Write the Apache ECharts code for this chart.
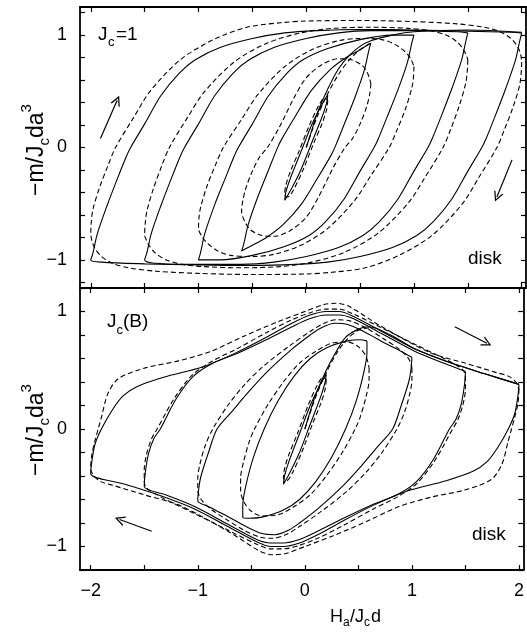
<!DOCTYPE html>
<html>
<head>
<meta charset="utf-8">
<script src="https://cdn.jsdelivr.net/npm/echarts@6/dist/echarts.min.js"></script>
<style>
  html, body { margin: 0; padding: 0; background: #fff; }
  #chart { width: 527px; height: 635px; }
</style>
</head>
<body>
<div id="chart"></div>
<script>
// Axis ticks and labels
const hTickValues = [-2, -1.5, -1, -0.5, 0, 0.5, 1, 1.5, 2];
const hLabelValues = [-2, -1, 0, 1, 2];
const mTickValues = [-1.2, -1, -0.8, -0.6, -0.4, -0.2, 0, 0.2, 0.4, 0.6, 0.8, 1, 1.2];
const mLabelValues = [-1, 0, 1];

// ---- Upper panel, Jc = 1 : loops [Ha/Jcd, -m/Jcda^3], down branch then up branch ----
const topSolidVirgin = [[0,0],[0.05,0.15],[0.1,0.3],[0.2,0.52],[0.3,0.7],[0.4,0.82],[0.5,0.9],[0.6,0.95],[0.8,1.0],[1.0,1.03],[1.5,1.045],[2.0,1.025]];
const topSolid20 = [[2.0,1.02],[1.98,0.94],[1.94,0.77],[1.85,0.52],[1.75,0.27],[1.67,0.08],[1.63,0],[1.5,-0.21],[1.35,-0.46],[1.18,-0.66],[1.03,-0.78],[0.8,-0.89],[0.5,-0.97],[0.2,-1.02],[-0.1,-1.04],[-0.5,-1.05],[-1.0,-1.045],[-1.5,-1.035],[-1.9,-1.02],[-2.0,-1.0],
  [-1.98,-0.94],[-1.94,-0.77],[-1.85,-0.52],[-1.75,-0.27],[-1.67,-0.08],[-1.63,0],[-1.5,0.21],[-1.35,0.46],[-1.18,0.66],[-1.03,0.78],[-0.8,0.89],[-0.5,0.97],[-0.2,1.02],[0.1,1.04],[0.5,1.05],[1.0,1.045],[1.5,1.035],[1.9,1.025],[2.0,1.02]];
const topSolid15 = [[1.5,1.02],[1.48,0.94],[1.44,0.77],[1.35,0.52],[1.25,0.27],[1.17,0.08],[1.13,0],[1.0,-0.21],[0.85,-0.46],[0.68,-0.66],[0.53,-0.78],[0.3,-0.89],[0.0,-0.97],[-0.3,-1.02],[-0.6,-1.04],[-1.0,-1.04],[-1.4,-1.03],[-1.5,-1.0],
  [-1.48,-0.94],[-1.44,-0.77],[-1.35,-0.52],[-1.25,-0.27],[-1.17,-0.08],[-1.13,0],[-1.0,0.21],[-0.85,0.46],[-0.68,0.66],[-0.53,0.78],[-0.3,0.89],[0.0,0.97],[0.3,1.02],[0.6,1.04],[1.0,1.04],[1.4,1.03],[1.5,1.02]];
const topSolid10 = [[1.0,1.0],[0.98,0.93],[0.94,0.76],[0.85,0.51],[0.75,0.27],[0.67,0.08],[0.63,0],[0.5,-0.21],[0.35,-0.46],[0.18,-0.66],[0.03,-0.78],[-0.2,-0.88],[-0.5,-0.96],[-0.8,-1.0],[-1.0,-1.0],
  [-0.98,-0.93],[-0.94,-0.76],[-0.85,-0.51],[-0.75,-0.27],[-0.67,-0.08],[-0.63,0],[-0.5,0.21],[-0.35,0.46],[-0.18,0.66],[-0.03,0.78],[0.2,0.88],[0.5,0.96],[0.8,1.0],[1.0,1.0]];
const topSolid06 = [[0.6,0.93],[0.58,0.86],[0.54,0.69],[0.45,0.44],[0.35,0.2],[0.27,0.01],[0.23,-0.07],[0.1,-0.28],[-0.05,-0.51],[-0.22,-0.69],[-0.37,-0.8],[-0.5,-0.87],[-0.6,-0.92],
  [-0.58,-0.86],[-0.54,-0.69],[-0.45,-0.44],[-0.35,-0.2],[-0.27,-0.01],[-0.23,0.07],[-0.1,0.28],[0.05,0.51],[0.22,0.69],[0.37,0.8],[0.5,0.87],[0.6,0.93]];
const topSolid02 = [[0.2,0.47],[0.19,0.4],[0.15,0.28],[0.05,0.04],[-0.05,-0.2],[-0.15,-0.39],[-0.2,-0.47],
  [-0.19,-0.4],[-0.15,-0.28],[-0.05,-0.04],[0.05,0.2],[0.15,0.39],[0.2,0.47]];

const topDashedVirgin = [[0,0],[0.1,0.27],[0.2,0.48],[0.3,0.65],[0.4,0.78],[0.5,0.87],[0.6,0.93]];
const topDashed20 = [[2.0,0.76],[1.995,0.66],[1.98,0.55],[1.92,0.36],[1.84,0.16],[1.77,0],[1.6,-0.27],[1.45,-0.5],[1.17,-0.78],[0.86,-0.96],[0.55,-1.07],[0.24,-1.11],[0,-1.125],[-0.5,-1.13],[-1.0,-1.12],[-1.4,-1.1],[-1.65,-1.07],[-1.8,-1.03],[-1.9,-0.97],[-1.96,-0.9],[-1.99,-0.83],[-2.0,-0.76],
  [-1.995,-0.66],[-1.98,-0.55],[-1.92,-0.36],[-1.84,-0.16],[-1.77,0],[-1.6,0.27],[-1.45,0.5],[-1.17,0.78],[-0.86,0.96],[-0.55,1.07],[-0.24,1.11],[0,1.125],[0.5,1.13],[1.0,1.12],[1.4,1.1],[1.65,1.07],[1.8,1.03],[1.9,0.97],[1.96,0.9],[1.99,0.83],[2.0,0.76]];
const topDashed15 = [[1.5,0.78],[1.495,0.68],[1.48,0.57],[1.42,0.37],[1.34,0.16],[1.27,0],[1.1,-0.27],[0.95,-0.49],[0.67,-0.76],[0.36,-0.93],[0.05,-1.02],[-0.25,-1.06],[-0.6,-1.07],[-0.95,-1.06],[-1.15,-1.04],[-1.3,-1.0],[-1.4,-0.94],[-1.46,-0.87],[-1.49,-0.81],[-1.5,-0.78],
  [-1.495,-0.68],[-1.48,-0.57],[-1.42,-0.37],[-1.34,-0.16],[-1.27,0],[-1.1,0.27],[-0.95,0.49],[-0.67,0.76],[-0.36,0.93],[-0.05,1.02],[0.25,1.06],[0.6,1.07],[0.95,1.06],[1.15,1.04],[1.3,1.0],[1.4,0.94],[1.46,0.87],[1.49,0.81],[1.5,0.78]];
const topDashed10 = [[1.0,0.72],[0.995,0.62],[0.98,0.53],[0.92,0.34],[0.84,0.15],[0.77,0],[0.6,-0.25],[0.45,-0.47],[0.2,-0.72],[-0.05,-0.87],[-0.3,-0.95],[-0.5,-0.97],[-0.7,-0.96],[-0.82,-0.92],[-0.92,-0.85],[-0.97,-0.79],[-1.0,-0.72],
  [-0.995,-0.62],[-0.98,-0.53],[-0.92,-0.34],[-0.84,-0.15],[-0.77,0],[-0.6,0.25],[-0.45,0.47],[-0.2,0.72],[0.05,0.87],[0.3,0.95],[0.5,0.97],[0.7,0.96],[0.82,0.92],[0.92,0.85],[0.97,0.79],[1.0,0.72]];
const topDashed06 = [[0.6,0.57],[0.59,0.48],[0.56,0.36],[0.5,0.21],[0.43,0.08],[0.36,0],[0.25,-0.18],[0.12,-0.43],[0.0,-0.62],[-0.15,-0.74],[-0.3,-0.79],[-0.42,-0.78],[-0.52,-0.73],[-0.57,-0.66],[-0.6,-0.57],
  [-0.59,-0.48],[-0.56,-0.36],[-0.5,-0.21],[-0.43,-0.08],[-0.36,0],[-0.25,0.18],[-0.12,0.43],[0.0,0.62],[0.15,0.74],[0.3,0.79],[0.42,0.78],[0.52,0.73],[0.57,0.66],[0.6,0.57]];
const topDashed02 = [[0.2,0.42],[0.19,0.34],[0.15,0.22],[0.07,0.04],[-0.03,-0.2],[-0.12,-0.38],[-0.17,-0.44],[-0.2,-0.42],
  [-0.19,-0.34],[-0.15,-0.22],[-0.07,-0.04],[0.03,0.2],[0.12,0.38],[0.17,0.44],[0.2,0.42]];

// ---- Lower panel, Jc(B) ----
const botSolidVirgin = [[0,0],[0.05,0.15],[0.1,0.29],[0.2,0.5],[0.3,0.67],[0.38,0.78],[0.5,0.85],[0.6,0.87],[0.8,0.8],[1.03,0.68],[1.34,0.57],[1.68,0.47],[2.0,0.38]];
const botSolid20 = [[2.0,0.38],[1.99,0.28],[1.96,0.13],[1.9,0],[1.8,-0.16],[1.7,-0.28],[1.57,-0.36],[1.32,-0.44],[0.95,-0.53],[0.64,-0.65],[0.36,-0.78],[0.12,-0.9],[-0.05,-0.97],[-0.2,-1.0],[-0.32,-1.0],[-0.45,-0.96],[-0.72,-0.83],[-1.03,-0.68],[-1.34,-0.57],[-1.68,-0.47],[-2.0,-0.38],
  [-1.99,-0.28],[-1.96,-0.13],[-1.9,0],[-1.8,0.16],[-1.7,0.28],[-1.57,0.36],[-1.32,0.44],[-0.95,0.53],[-0.64,0.65],[-0.36,0.78],[-0.12,0.9],[0.05,0.97],[0.2,1.0],[0.32,1.0],[0.45,0.96],[0.72,0.83],[1.03,0.68],[1.34,0.57],[1.68,0.47],[2.0,0.38]];
const botSolid15 = [[1.5,0.49],[1.49,0.37],[1.46,0.21],[1.41,0.08],[1.35,0],[1.2,-0.26],[1.04,-0.45],[0.86,-0.56],[0.64,-0.64],[0.36,-0.76],[0.12,-0.87],[-0.05,-0.94],[-0.2,-0.97],[-0.32,-0.97],[-0.45,-0.94],[-0.72,-0.81],[-1.03,-0.66],[-1.3,-0.56],[-1.5,-0.49],
  [-1.49,-0.37],[-1.46,-0.21],[-1.41,-0.08],[-1.35,0],[-1.2,0.26],[-1.04,0.45],[-0.86,0.56],[-0.64,0.64],[-0.36,0.76],[-0.12,0.87],[0.05,0.94],[0.2,0.97],[0.32,0.97],[0.45,0.94],[0.72,0.81],[1.03,0.66],[1.3,0.56],[1.5,0.49]];
const botSolid10 = [[1.0,0.61],[0.99,0.5],[0.97,0.4],[0.9,0.2],[0.82,0],[0.68,-0.15],[0.55,-0.29],[0.36,-0.48],[0.12,-0.68],[-0.05,-0.8],[-0.15,-0.86],[-0.28,-0.9],[-0.4,-0.89],[-0.55,-0.83],[-0.75,-0.73],[-0.9,-0.66],[-1.0,-0.61],
  [-0.99,-0.5],[-0.97,-0.4],[-0.9,-0.2],[-0.82,0],[-0.68,0.15],[-0.55,0.29],[-0.36,0.48],[-0.12,0.68],[0.05,0.8],[0.15,0.86],[0.28,0.9],[0.4,0.89],[0.55,0.83],[0.75,0.73],[0.9,0.66],[1.0,0.61]];
const botSolid06 = [[0.58,0.75],[0.58,0.65],[0.55,0.48],[0.48,0.24],[0.38,0],[0.25,-0.24],[0.1,-0.45],[-0.05,-0.6],[-0.2,-0.69],[-0.4,-0.75],[-0.52,-0.76],[-0.58,-0.75],
  [-0.58,-0.65],[-0.55,-0.48],[-0.48,-0.24],[-0.38,0],[-0.25,0.24],[-0.1,0.45],[0.05,0.6],[0.2,0.69],[0.4,0.75],[0.52,0.76],[0.58,0.75]];
const botSolid02 = [[0.2,0.47],[0.19,0.4],[0.15,0.28],[0.05,0.04],[-0.05,-0.2],[-0.15,-0.39],[-0.2,-0.47],
  [-0.19,-0.4],[-0.15,-0.28],[-0.05,-0.04],[0.05,0.2],[0.15,0.39],[0.2,0.47]];

const botDashedVirgin = [[0,0],[0.1,0.27],[0.2,0.48],[0.3,0.65],[0.4,0.77],[0.5,0.84],[0.6,0.86]];
const botDashed20 = [[2.0,0.34],[1.99,0.22],[1.96,0.1],[1.93,0],[1.9,-0.1],[1.84,-0.3],[1.74,-0.43],[1.49,-0.52],[1.18,-0.58],[0.88,-0.66],[0.57,-0.79],[0.26,-0.91],[0.0,-1.0],[-0.18,-1.06],[-0.3,-1.07],[-0.42,-1.04],[-0.7,-0.88],[-1.17,-0.65],[-1.5,-0.56],[-1.79,-0.48],[-1.9,-0.45],[-1.97,-0.4],[-2.0,-0.34],
  [-1.99,-0.22],[-1.96,-0.1],[-1.93,0],[-1.9,0.1],[-1.84,0.3],[-1.74,0.43],[-1.49,0.52],[-1.18,0.58],[-0.88,0.66],[-0.57,0.79],[-0.26,0.91],[0.0,1.0],[0.18,1.06],[0.3,1.07],[0.42,1.04],[0.7,0.88],[1.17,0.65],[1.5,0.56],[1.79,0.48],[1.9,0.45],[1.97,0.4],[2.0,0.34]];
const botDashed15 = [[1.5,0.45],[1.5,0.35],[1.48,0.22],[1.43,0.08],[1.38,0],[1.22,-0.26],[1.05,-0.46],[0.86,-0.58],[0.64,-0.68],[0.36,-0.82],[0.12,-0.93],[-0.05,-0.99],[-0.2,-1.02],[-0.32,-1.02],[-0.45,-0.98],[-0.72,-0.86],[-1.03,-0.72],[-1.3,-0.6],[-1.42,-0.54],[-1.48,-0.5],[-1.5,-0.45],
  [-1.5,-0.35],[-1.48,-0.22],[-1.43,-0.08],[-1.38,0],[-1.22,0.26],[-1.05,0.46],[-0.86,0.58],[-0.64,0.68],[-0.36,0.82],[-0.12,0.93],[0.05,0.99],[0.2,1.02],[0.32,1.02],[0.45,0.98],[0.72,0.86],[1.03,0.72],[1.3,0.6],[1.42,0.54],[1.48,0.5],[1.5,0.45]];
const botDashed10 = [[1.0,0.52],[1.0,0.42],[0.98,0.3],[0.93,0.14],[0.86,0],[0.72,-0.2],[0.57,-0.37],[0.38,-0.54],[0.14,-0.71],[-0.05,-0.83],[-0.18,-0.9],[-0.3,-0.93],[-0.42,-0.92],[-0.57,-0.86],[-0.75,-0.76],[-0.88,-0.68],[-0.96,-0.61],[-0.99,-0.56],[-1.0,-0.52],
  [-1.0,-0.42],[-0.98,-0.3],[-0.93,-0.14],[-0.86,0],[-0.72,0.2],[-0.57,0.37],[-0.38,0.54],[-0.14,0.71],[0.05,0.83],[0.18,0.9],[0.3,0.93],[0.42,0.92],[0.57,0.86],[0.75,0.76],[0.88,0.68],[0.96,0.61],[0.99,0.56],[1.0,0.52]];
const botDashed06 = [[0.6,0.52],[0.6,0.42],[0.57,0.27],[0.52,0.11],[0.47,0],[0.35,-0.2],[0.2,-0.4],[0.05,-0.56],[-0.1,-0.66],[-0.25,-0.73],[-0.4,-0.74],[-0.5,-0.7],[-0.57,-0.62],[-0.6,-0.52],
  [-0.6,-0.42],[-0.57,-0.27],[-0.52,-0.11],[-0.47,0],[-0.35,0.2],[-0.2,0.4],[-0.05,0.56],[0.1,0.66],[0.25,0.73],[0.4,0.74],[0.5,0.7],[0.57,0.62],[0.6,0.52]];
const botDashed02 = [[0.2,0.42],[0.19,0.34],[0.15,0.22],[0.07,0.04],[-0.03,-0.2],[-0.12,-0.38],[-0.17,-0.44],[-0.2,-0.42],
  [-0.19,-0.34],[-0.15,-0.22],[-0.07,-0.04],[0.03,0.2],[0.12,0.38],[0.17,0.44],[0.2,0.42]];

// Sweep-direction arrows, [tail, head] in axis units
const topArrows = [[[-1.91, 0.08], [-1.755, 0.42]], [[1.91, -0.11], [1.77, -0.44]]];
const botArrows = [[[1.4, 0.87], [1.7, 0.73]], [[-1.43, -0.87], [-1.73, -0.77]]];

const FONT = '"Liberation Sans", Arial, Helvetica, sans-serif';
const minusFmt = v => (v < 0 ? '\u2212' + (-v) : String(v));

function xAxisDef(gridIndex, position, withLabels) {
  return {
    type: 'value', gridIndex, position, min: -2.1, max: 2.04,
    axisLine: { show: true, onZero: false, lineStyle: { color: '#000', width: 1.8 } },
    axisTick: { show: true, inside: true, length: 5, customValues: hTickValues, lineStyle: { color: '#000', width: 1.2 } },
    axisLabel: withLabels
      ? { show: true, customValues: hLabelValues, formatter: minusFmt, color: '#000', fontSize: 18, fontFamily: FONT, margin: 12 }
      : { show: false },
    splitLine: { show: false }
  };
}
function yAxisDef(gridIndex, position, lim, withLabels) {
  return {
    type: 'value', gridIndex, position, min: -lim, max: lim,
    axisLine: { show: true, onZero: false, lineStyle: { color: '#000', width: 1.8 } },
    axisTick: { show: true, inside: true, length: 5, customValues: mTickValues, lineStyle: { color: '#000', width: 1.2 } },
    axisLabel: withLabels
      ? { show: true, customValues: mLabelValues, formatter: minusFmt, color: '#000', fontSize: 18, fontFamily: FONT, margin: 13 }
      : { show: false },
    splitLine: { show: false }
  };
}

function loop(data, panel, dashed) {
  return {
    type: 'line', xAxisIndex: panel * 2, yAxisIndex: panel * 2, data,
    showSymbol: false, symbol: 'none', silent: true, animation: false, smooth: 0.3,
    lineStyle: { color: '#000', width: 1.1, type: dashed ? [5, 3] : 'solid' }
  };
}
const ARROW_HEAD = 'path://M5,0 L10,13 L8.6,13 L5,3.5 L1.4,13 L0,13 Z';
function arrows(list, panel) {
  return {
    type: 'lines', coordinateSystem: 'cartesian2d', xAxisIndex: panel * 2, yAxisIndex: panel * 2,
    data: list.map(c => ({ coords: c })),
    symbol: ['none', ARROW_HEAD], symbolSize: [7, 10],
    lineStyle: { color: '#000', width: 1.2, opacity: 1, curveness: 0 },
    itemStyle: { color: '#000' },
    silent: true, animation: false
  };
}

const series = [
  loop(topSolidVirgin, 0, false), loop(topSolid20, 0, false), loop(topSolid15, 0, false),
  loop(topSolid10, 0, false), loop(topSolid06, 0, false), loop(topSolid02, 0, false),
  loop(topDashedVirgin, 0, true), loop(topDashed20, 0, true), loop(topDashed15, 0, true),
  loop(topDashed10, 0, true), loop(topDashed06, 0, true), loop(topDashed02, 0, true),
  loop(botSolidVirgin, 1, false), loop(botSolid20, 1, false), loop(botSolid15, 1, false),
  loop(botSolid10, 1, false), loop(botSolid06, 1, false), loop(botSolid02, 1, false),
  loop(botDashedVirgin, 1, true), loop(botDashed20, 1, true), loop(botDashed15, 1, true),
  loop(botDashed10, 1, true), loop(botDashed06, 1, true), loop(botDashed02, 1, true),
  arrows(topArrows, 0), arrows(botArrows, 1)
];

function txt(x, y, text, size, align) {
  return {
    type: 'text', x, y, silent: true,
    style: { text, fill: '#000', font: size + 'px ' + FONT, textAlign: align || 'left', textVerticalAlign: 'middle', align: align || 'left', verticalAlign: 'middle' }
  };
}
// Rotated axis name: -m/J_c d a^3
function yName(cx, cy) {
  return {
    type: 'group', x: cx, y: cy, rotation: Math.PI / 2, silent: true,
    children: [
      txt(-46, 0, '\u2212m/J', 23),
      txt(4.5, 8, 'c', 15),
      txt(12, 0, 'da', 23),
      txt(37.6, -10, '3', 15)
    ]
  };
}

const option = {
  backgroundColor: '#fff',
  animation: false,
  grid: [
    { left: 80, top: 7, width: 446, height: 281 },
    { left: 80, top: 288, width: 446, height: 282 }
  ],
  xAxis: [xAxisDef(0, 'bottom', false), xAxisDef(0, 'top', false), xAxisDef(1, 'bottom', true), xAxisDef(1, 'top', false)],
  yAxis: [yAxisDef(0, 'left', 1.25, true), yAxisDef(0, 'right', 1.25, false), yAxisDef(1, 'left', 1.2, true), yAxisDef(1, 'right', 1.2, false)],
  series,
  graphic: [
    txt(98, 35, 'J', 19), txt(108, 42, 'c', 13), txt(116, 35, '=1', 19),
    txt(107, 322, 'J', 19), txt(116.5, 330, 'c', 13), txt(123, 322, '(B)', 19),
    txt(468, 259, 'disk', 19),
    txt(472, 535, 'disk', 19),
    yName(37, 150),
    yName(37, 430),
    txt(330, 617, 'H', 18), txt(343, 623, 'a', 12), txt(350, 617, '/J', 18), txt(364, 623, 'c', 12), txt(371, 617, 'd', 18)
  ]
};

const chart = echarts.init(document.getElementById('chart'), null, { renderer: 'canvas' });
chart.setOption(option);
</script>
</body>
</html>
